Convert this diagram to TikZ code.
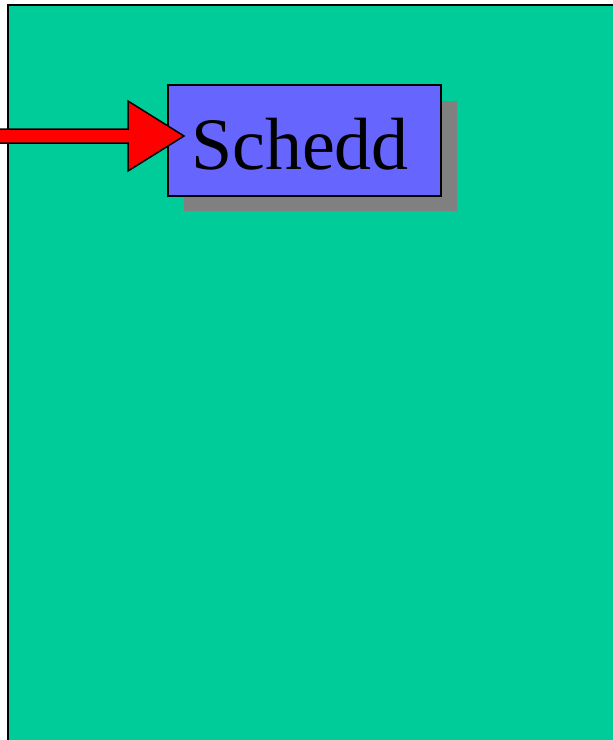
\documentclass[tikz,border=0pt]{standalone}
\usepackage{fontspec}
\setmainfont{Liberation Serif}
\definecolor{bggreen}{HTML}{00CC99}
\definecolor{boxblue}{HTML}{6666FF}
\definecolor{shadowgray}{HTML}{808080}
\begin{document}
\begin{tikzpicture}[x=1pt,y=-1pt,
  panel/.style={fill=bggreen,draw=black,line width=2pt},
  procbox/.style={fill=boxblue,draw=black,line width=1.3pt},
  shadowbox/.style={fill=shadowgray},
  bigarrow/.style={fill=red,draw=black,line width=1.5pt,line join=miter}]
\useasboundingbox (0,0) rectangle (613,740);
\clip (0,0) rectangle (613,740);
\draw[panel] (8,5) rectangle (630,760);
\fill[shadowbox] (184,101) rectangle (457,211);
\draw[procbox] (168,85) rectangle (441,196);
\node[anchor=base,inner sep=0pt,font=\fontsize{74}{74}\selectfont] (schedd) at (300,169) {Schedd};
\coordinate (tip) at (184,136);
\draw[bigarrow] (-10,129) -- (128,129) -- (128,101) -- (tip) -- (128,171) -- (128,143) -- (-10,143) -- cycle;
\end{tikzpicture}
\end{document}
